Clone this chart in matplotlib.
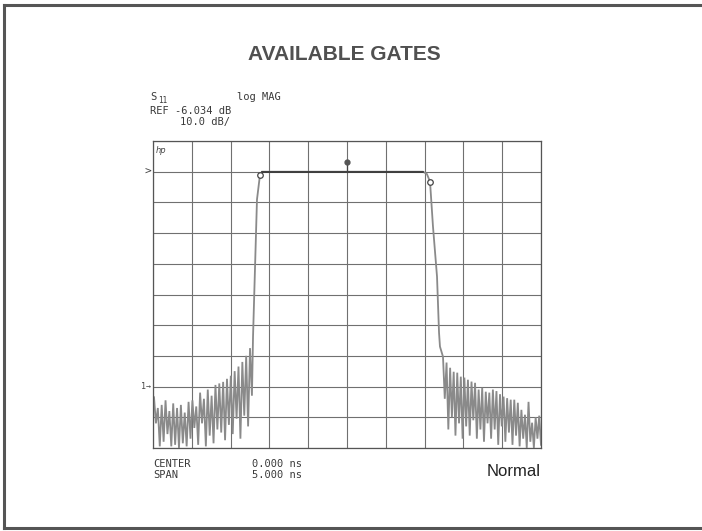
import matplotlib
matplotlib.use("Agg")
import matplotlib.pyplot as plt
import numpy as np
from matplotlib.lines import Line2D

# analyzer settings
ref_level = -6.034      # dB
scale = 10.0            # dB/div
center = 0.0            # ns
span = 5.0              # ns

# gate edges (ns, dB)
left_edge_t = [-1.211, -1.160, -1.121, -1.095]
left_edge_db = [-59.8, -15.1, -7.0, -6.034]
right_edge_t = [0.979, 1.030, 1.070, 1.108, 1.160, 1.186, 1.198]
right_edge_db = [-6.034, -6.8, -9.3, -23.9, -40.2, -58.5, -63.0]

# sidelobe ripple, alternating peak / trough (dB)
left_peaks = [-79.5, -83.0, -82.0, -80.5, -84.0, -81.5, -83.0, -82.0, -84.5, -81.0,
              -80.5, -82.5, -78.0, -80.0, -77.0, -79.0, -75.5, -75.0, -74.5, -73.5,
              -72.5, -71.0, -69.5, -68.0, -66.0, -63.5]
left_troughs = [-88.0, -95.5, -94.0, -91.5, -95.5, -95.0, -96.0, -94.5, -95.5, -93.0,
                -89.5, -95.0, -88.0, -95.5, -92.0, -94.5, -90.0, -91.0, -93.5, -88.5,
                -91.5, -86.5, -93.0, -85.5, -89.0, -79.0]
right_peaks = [-66.3, -68.2, -69.9, -71.2, -71.5, -72.8, -73.1, -73.8, -74.4, -74.8,
               -77.0, -76.4, -77.7, -78.0, -77.0, -77.5, -78.5, -79.3, -79.8, -80.3,
               -80.3, -81.3, -83.6, -85.2, -81.0, -87.8, -86.0, -85.5]
right_troughs = [-80.0, -90.0, -86.0, -92.0, -88.0, -93.0, -89.0, -92.0, -87.0, -93.0,
                 -90.0, -94.0, -88.0, -93.0, -90.0, -95.0, -89.0, -94.0, -91.0, -95.0,
                 -92.0, -95.5, -93.0, -96.0, -94.0, -96.0, -93.0, -95.0]

# markers (ns, dB)
marker_t = [-1.121, 1.070]
marker_db = [-7.0, -9.3]
center_marker_db = -2.9


def interleave(a, b):
    out = []
    for p, q in zip(a, b):
        out += [p, q]
    return out


left_db = interleave(left_peaks, left_troughs)
right_db = interleave(right_peaks, right_troughs)
left_t = np.linspace(-2.487, -1.225, len(left_db))
right_t = np.linspace(1.237, 2.5, len(right_db))

t = np.concatenate([left_t, left_edge_t, right_edge_t, right_t])
db = np.concatenate([left_db, left_edge_db, right_edge_db, right_db])

fig = plt.figure(figsize=(7.02, 5.31), dpi=100)
W, H = 702, 531

ax = fig.add_axes([153 / W, 1 - 448 / H, 388 / W, 307 / H])
x0, x1 = center - span / 2, center + span / 2
y1 = ref_level + scale
y0 = ref_level - 9 * scale
ax.set_xlim(x0, x1)
ax.set_ylim(y0, y1)
ax.set_xticks(np.linspace(x0, x1, 11))
ax.set_yticks(np.linspace(y0, y1, 11))
ax.tick_params(length=0, labelleft=False, labelbottom=False)
ax.grid(True, color='#707070', lw=0.8)
for s in ax.spines.values():
    s.set_color('#555555')
    s.set_linewidth(0.9)

ax.plot(t, db, color='#8a8a8a', lw=1.3, solid_joinstyle='miter')
ax.plot([left_edge_t[-1], right_edge_t[0]], [ref_level, ref_level], color='#333333', lw=1.2)

# markers
ax.plot(marker_t, marker_db, 'o', mfc='white', mec='#444444', ms=4, mew=0.9)
ax.plot([center, center], [ref_level, center_marker_db], color='#444444', lw=0.9)
ax.plot([center], [center_marker_db], 'o', color='#555555', ms=3.5)

# reference pointers at the left edge
ax.text(-0.005, ref_level, '>', transform=ax.get_yaxis_transform(), ha='right', va='center',
        fontsize=8, color='#444444', family='DejaVu Sans Mono')
ax.text(-0.005, ref_level - 7 * scale, '1\u2192', transform=ax.get_yaxis_transform(),
        ha='right', va='center', fontsize=6, color='#444444', family='DejaVu Sans Mono')
ax.text(0.008, 0.985, 'hp', transform=ax.transAxes, ha='left', va='top', fontsize=6,
        style='italic', color='#444444')

# title and annotation text
fig.text(344 / W, 1 - 55 / H, 'AVAILABLE GATES', ha='center', va='center', fontsize=15,
         weight='bold', color='#505050', family='Liberation Sans')
mono = dict(family='DejaVu Sans Mono', fontsize=7.5, color='#3a3a3a', va='center', ha='left')
fig.text(150 / W, 1 - 97 / H, 'S', **mono)
fig.text(158 / W, 1 - 100.5 / H, '11', family='DejaVu Sans Mono', fontsize=5.5,
         color='#3a3a3a', va='center', ha='left')
fig.text(237 / W, 1 - 97 / H, 'log MAG', **mono)
fig.text(150 / W, 1 - 111 / H, 'REF -6.034 dB', **mono)
fig.text(180 / W, 1 - 122.5 / H, '10.0 dB/', **mono)
fig.text(153 / W, 1 - 464 / H, 'CENTER', **mono)
fig.text(153 / W, 1 - 475.5 / H, 'SPAN', **mono)
fig.text(252 / W, 1 - 464 / H, '0.000 ns', **mono)
fig.text(252 / W, 1 - 475.5 / H, '5.000 ns', **mono)
fig.text(541 / W, 1 - 472 / H, 'Normal', ha='right', va='center', fontsize=12,
         color='#222222', family='Liberation Sans')

# slide border
border = dict(color='#555555', lw=2.2, transform=fig.transFigure)
fig.add_artist(Line2D([4 / W, 1], [1 - 5 / H, 1 - 5 / H], **border))
fig.add_artist(Line2D([4 / W, 4 / W], [1 - 5 / H, 1 - 528 / H], **border))
fig.add_artist(Line2D([4 / W, 1], [1 - 528 / H, 1 - 528 / H], **border))

fig.savefig('out.png', dpi=100)
